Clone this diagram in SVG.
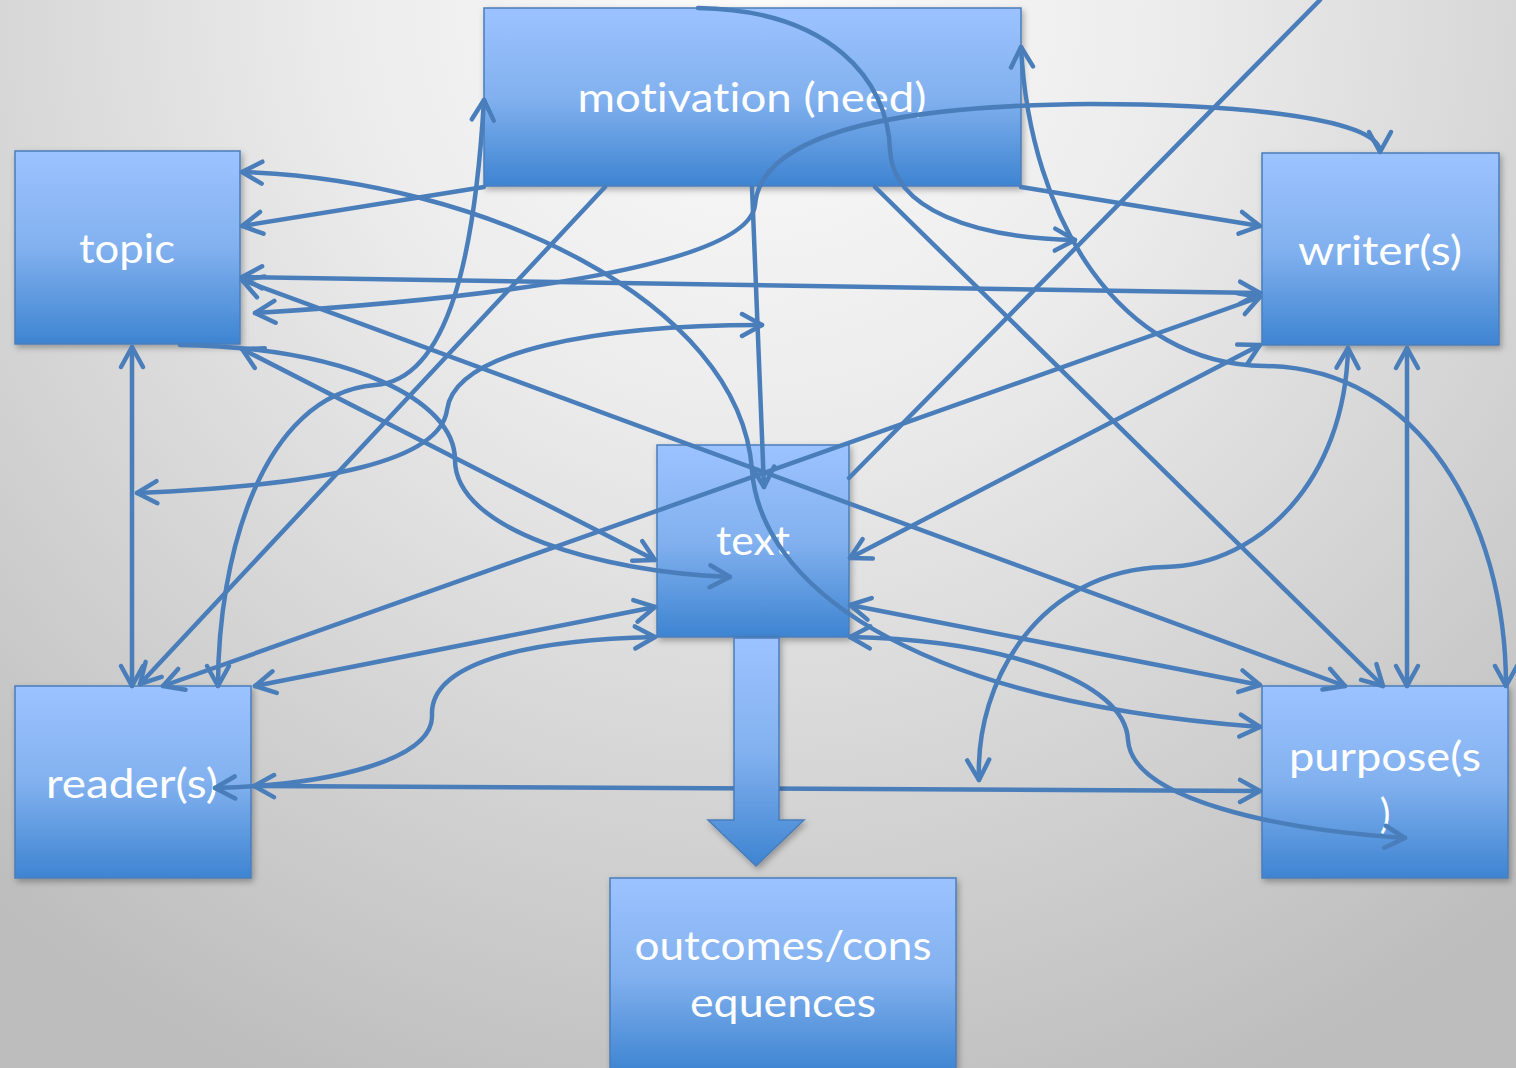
<svg xmlns="http://www.w3.org/2000/svg" width="1516" height="1068" viewBox="0 0 1516 1068">
<defs>
<radialGradient id="bg" gradientUnits="userSpaceOnUse" cx="758" cy="0" r="1180">
<stop offset="0" stop-color="#fbfbfb"/>
<stop offset="0.35" stop-color="#ececec"/>
<stop offset="1" stop-color="#bdbdbd"/>
</radialGradient>
<linearGradient id="nodeFill" x1="0" y1="0" x2="0" y2="1">
<stop offset="0" stop-color="#9cc3ff"/>
<stop offset="0.5" stop-color="#82b1ef"/>
<stop offset="1" stop-color="#3e84d1"/>
</linearGradient>
<filter id="shadow" x="-10%" y="-10%" width="125%" height="130%">
<feDropShadow dx="2" dy="3" stdDeviation="3" flood-color="#000" flood-opacity="0.3"/>
</filter>
<marker id="arr" markerUnits="userSpaceOnUse" viewBox="-26 -15 32 30" refX="0" refY="0" markerWidth="32" markerHeight="30" orient="auto-start-reverse" overflow="visible">
<path d="M-20,-11 L0,0 L-20,11" fill="none" stroke="#4a7ebb" stroke-width="4.5" stroke-linecap="round" stroke-linejoin="round"/>
</marker>
</defs>
<style>
.node{fill:url(#nodeFill);stroke:#4a7ebb;stroke-width:1.5;filter:url(#shadow)}
.lbl{fill:#ffffff;font-family:Lato,"Liberation Sans",sans-serif;font-size:40px;text-anchor:middle;font-variant-ligatures:none}
.c{fill:none;stroke:#4a7ebb;stroke-width:4.5;stroke-linecap:round}
.b{marker-start:url(#arr);marker-end:url(#arr)}
.e{marker-end:url(#arr)}
</style>
<rect width="1516" height="1068" fill="url(#bg)"/>

<g id="motivation">
<rect class="node" x="484" y="8" width="537" height="178"/>
<text class="lbl" x="752" y="112" textLength="349" lengthAdjust="spacingAndGlyphs">motivation (need)</text>
</g>
<g id="topic">
<rect class="node" x="15" y="151" width="225" height="193"/>
<text class="lbl" x="127" y="263" textLength="96" lengthAdjust="spacingAndGlyphs">topic</text>
</g>
<g id="writer">
<rect class="node" x="1262" y="153" width="237" height="192"/>
<text class="lbl" x="1380" y="265" textLength="164" lengthAdjust="spacingAndGlyphs">writer(s)</text>
</g>
<g id="text">
<rect class="node" x="657" y="445" width="192" height="192"/>
<text class="lbl" x="753" y="555" textLength="74" lengthAdjust="spacingAndGlyphs">text</text>
</g>
<g id="reader">
<rect class="node" x="15" y="686" width="236" height="192"/>
<text class="lbl" x="132" y="798" textLength="172" lengthAdjust="spacingAndGlyphs">reader(s)</text>
</g>
<g id="purpose">
<rect class="node" x="1262" y="686" width="246" height="192"/>
<text class="lbl" x="1385" y="771" textLength="192" lengthAdjust="spacingAndGlyphs">purpose(s</text>
<text class="lbl" x="1385" y="828">)</text>
</g>
<g id="outcomes">
<rect class="node" x="610" y="878" width="346" height="194"/>
<text class="lbl" x="783" y="960" textLength="297" lengthAdjust="spacingAndGlyphs">outcomes/cons</text>
<text class="lbl" x="783" y="1017" textLength="186" lengthAdjust="spacingAndGlyphs">equences</text>
</g>

<g id="connectors">
<path class="c e" d="M698,8 C830,10 888,80 890,150 C893,210 975,238 1075,240"/>
<path class="c e" d="M180,345 C350,348 455,400 455,460 C455,530 600,572 730,577"/>
<path class="c b" d="M242,349 L655,560"/>
<path class="c e" d="M484,187 L242,226"/>
<path class="c e" d="M1021,187 L1260,226"/>
<path class="c b" d="M242,172 C480,180 740,300 752,470 C760,580 900,700 1260,727"/>
<path class="c b" d="M242,277 L1260,293"/>
<path class="c b" d="M242,280 L1345,686"/>
<path class="c b" d="M255,313 C500,298 748,265 755,205 C762,120 950,105 1090,104 C1250,104 1380,120 1380,152"/>
<path class="c b" d="M132,347 L132,686"/>
<path class="c b" d="M137,493 C330,485 440,460 447,410 C455,350 600,325 762,325"/>
<path class="c b" d="M484,100 C475,250 450,380 375,385 C260,395 218,560 218,686"/>
<path class="c e" d="M605,187 L140,684"/>
<path class="c e" d="M752,187 L764,487"/>
<path class="c e" d="M875,187 L1383,686"/>
<path class="c" d="M1320,0 L849,478"/>
<path class="c b" d="M1021,47 C1030,220 1120,365 1265,366 C1420,368 1506,520 1506,686"/>
<path class="c b" d="M1348,348 C1345,480 1260,565 1165,567 C1040,570 975,680 979,780"/>
<path class="c b" d="M1407,348 L1407,686"/>
<path class="c b" d="M163,686 L1260,297"/>
<path class="c b" d="M850,558 L1260,345"/>
<path class="c b" d="M255,686 L655,607"/>
<path class="c b" d="M655,637 C520,640 430,665 432,715 C434,760 330,785 215,788"/>
<path class="c b" d="M254,786 L1260,791"/>
<path class="c b" d="M850,605 L1260,685"/>
<path class="c b" d="M850,637 C1000,640 1125,680 1128,740 C1132,800 1280,830 1405,838"/>
</g>

<g id="blockArrow">
<polygon points="734,638 779,638 779,820 804,820 756,866 708,820 734,820" fill="url(#nodeFill)" stroke="#4a7ebb" stroke-width="1.5" filter="url(#shadow)"/>
</g>
</svg>
